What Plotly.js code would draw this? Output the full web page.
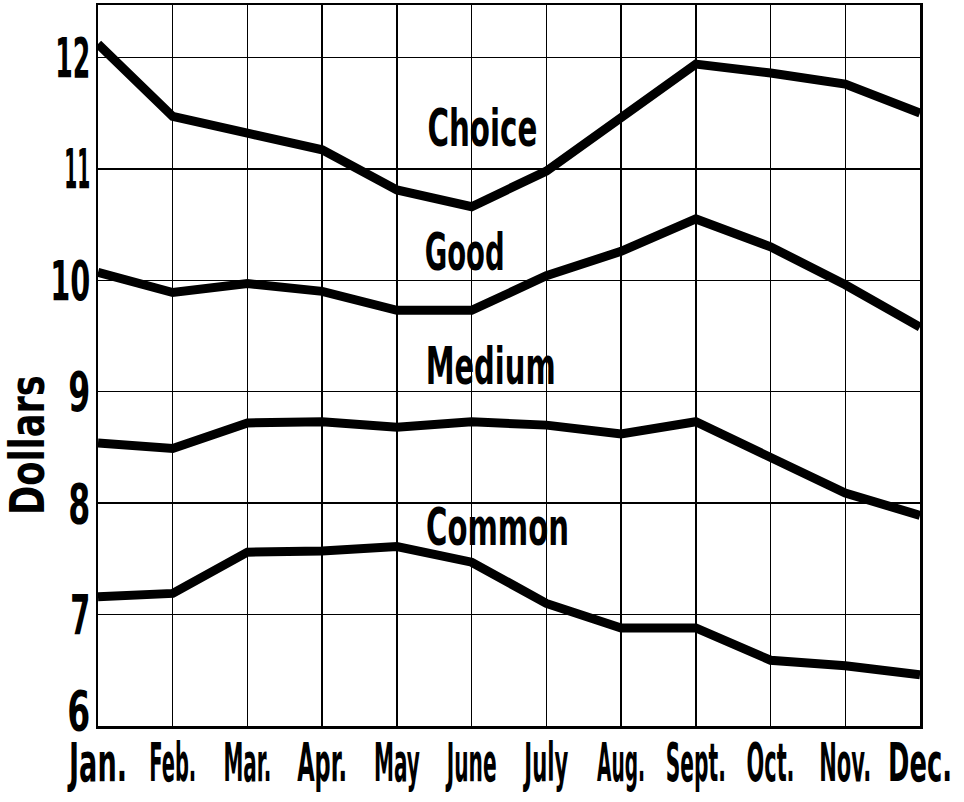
<!DOCTYPE html>
<html>
<head>
<meta charset="utf-8">
<script src="https://cdn.plot.ly/plotly-3.0.1.min.js"></script>
<style>html,body{margin:0;padding:0;background:#fff;}#chart{width:964px;height:802px;}</style>
</head>
<body>
<div id="chart"></div>
<script>
// ---- data ----
const months = ["Jan.", "Feb.", "Mar.", "Apr.", "May", "June", "July", "Aug.", "Sept.", "Oct.", "Nov.", "Dec."];
const choice = [12.12, 11.47, 11.32, 11.17, 10.81, 10.66, 10.98, 11.45, 11.94, 11.86, 11.76, 11.50];
const good   = [10.07, 9.89, 9.97, 9.90, 9.73, 9.73, 10.04, 10.26, 10.55, 10.30, 9.96, 9.58];
const medium = [8.54, 8.49, 8.72, 8.73, 8.68, 8.73, 8.70, 8.62, 8.73, 8.40, 8.09, 7.89];
const common = [7.16, 7.19, 7.56, 7.57, 7.61, 7.47, 7.10, 6.88, 6.88, 6.59, 6.54, 6.46];
const seriesNames = ["Choice", "Good", "Medium", "Common"];
const yTicks = [6, 7, 8, 9, 10, 11, 12];
const yTickText = ["6", "7", "8", "9", "10", "11", "12"];
const yTitle = "Dollars";

// ---- style (positions / glyph widths for the condensed hand lettering) ----
const FONT = "'DejaVu Sans', 'Liberation Sans', sans-serif";
const labelPos = [{x: 5.14, y: 11.37}, {x: 4.91, y: 10.25}, {x: 5.25, y: 9.23}, {x: 5.35, y: 7.79}];
const labelWidths = {"Choice": 110, "Good": 80, "Medium": 130, "Common": 143, "Dollars": 140};
const xLabelWidths = {"Jan.": 58, "Feb.": 47, "Mar.": 48, "Apr.": 50, "May": 46, "June": 50, "July": 44,
                      "Aug.": 48, "Sept.": 60, "Oct.": 48, "Nov.": 52, "Dec.": 64};
const yLabelWidths = {"6": 23, "7": 20, "8": 22, "9": 22, "10": 40, "11": 26, "12": 35};
const yLabelLift = {"6": 16};

const allSeries = [choice, good, medium, common];
const traces = allSeries.map((vals, i) => ({
  x: months, y: vals, type: "scatter", mode: "lines", name: seriesNames[i],
  line: {color: "#000", width: 9, shape: "linear"}, showlegend: false, hoverinfo: "skip"
}));

const annotations = seriesNames.map((n, i) => ({
  x: labelPos[i].x, y: labelPos[i].y, xref: "x", yref: "y", text: n, showarrow: false,
  font: {family: FONT, size: 52, color: "#000", weight: "bold"}, xanchor: "center", yanchor: "middle"
}));
annotations.push({
  x: -0.087, y: 0.39, xref: "paper", yref: "paper", text: yTitle, showarrow: false, textangle: -90,
  font: {family: FONT, size: 48, color: "#000", weight: "bold"}, xanchor: "center", yanchor: "middle"
});

const layout = {
  width: 964, height: 802,
  margin: {l: 98, r: 44, t: 5, b: 76},
  paper_bgcolor: "#fff", plot_bgcolor: "#fff",
  showlegend: false,
  xaxis: {
    type: "category", range: [0, 11], showgrid: true, gridcolor: "#000", gridwidth: 1.5,
    showline: true, linecolor: "#000", linewidth: 2.5, mirror: true, ticks: "", tickangle: 0,
    ticklabelstandoff: -12, zeroline: false,
    tickfont: {family: FONT, size: 54, color: "#000", weight: "bold"}
  },
  yaxis: {
    range: [6, 12.47], tickvals: yTicks, ticktext: yTickText, showgrid: true, gridcolor: "#000", gridwidth: 1.5,
    showline: true, linecolor: "#000", linewidth: 2.5, mirror: true, ticks: "", zeroline: false,
    ticklabelstandoff: -6,
    tickfont: {family: FONT, size: 56, color: "#000", weight: "bold"}
  },
  annotations: annotations
};

function squeeze(gd) {
  const fit = (sel, widths) => gd.querySelectorAll(sel).forEach(t => {
    const w = widths[t.textContent.trim()];
    if (w) { t.setAttribute("textLength", w); t.setAttribute("lengthAdjust", "spacingAndGlyphs"); }
  });
  fit(".xtick text", xLabelWidths);
  fit(".ytick text", yLabelWidths);
  fit(".annotation-text", labelWidths);
  gd.querySelectorAll(".ytick text").forEach(t => {
    const d = yLabelLift[t.textContent.trim()];
    if (d) t.setAttribute("y", String(parseFloat(t.getAttribute("y") || "0") - d));
  });
}

Plotly.newPlot("chart", traces, layout, {staticPlot: true, displayModeBar: false}).then(squeeze);
</script>
</body>
</html>
